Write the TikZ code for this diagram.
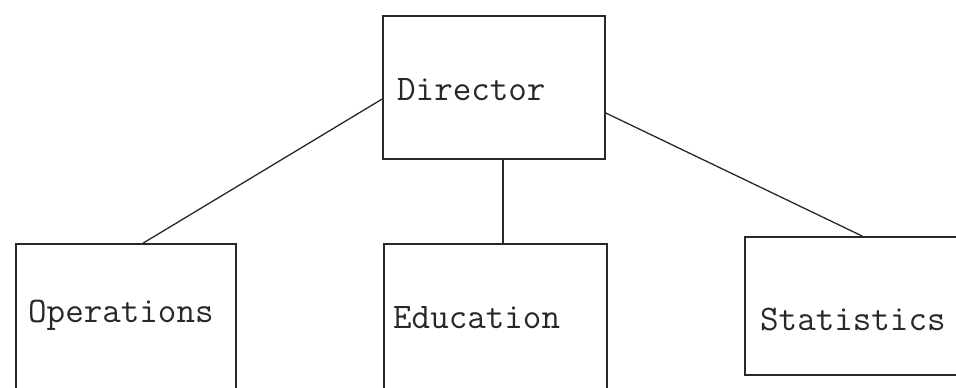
\documentclass[tikz,border=0pt]{standalone}
\usepackage{tikz}
\usetikzlibrary{positioning}
\definecolor{tinta}{RGB}{40,40,40}

\begin{document}
\begin{tikzpicture}[x=1pt, y=-1pt,
      box/.style={draw=tinta, line width=1.6pt, rectangle, inner sep=0pt},
      lbl/.style={anchor=base west, inner sep=0pt, text=tinta,
                  font=\fontsize{36}{36}\selectfont\ttfamily},
      edge/.style={draw=tinta, line width=1.3pt}]

    \useasboundingbox (0,0) rectangle (956,388);
    \clip (0,0) rectangle (956,388);

    % boxes
    \node[box, minimum width=222pt, minimum height=143pt] (dir) at (494,87.5) {};
    \node[box, minimum width=220pt, minimum height=176pt] (ops) at (126,332) {};
    \node[box, minimum width=223pt, minimum height=176pt] (edu) at (495.5,332) {};
    \node[box, minimum width=235pt, minimum height=138pt] (stat) at (862.5,306) {};

    % labels
    \node[lbl] (dirtxt) at (397,100) {Director};
    \node[lbl] (opstxt) at (28,322) {Operations};
    \node[lbl] (edutxt) at (393,328) {Education};
    \node[lbl] (stattxt) at (760,330) {Statistics};

    % links
    \draw[edge] ([yshift=-11.5pt]dir.west) -- ([xshift=17pt]ops.north);
    \draw[edge] ([xshift=9pt]dir.south) -- ([xshift=7.5pt]edu.north);
    \draw[edge] ([yshift=-25.5pt]dir.east) -- (stat.north);
  \end{tikzpicture}
\end{document}
